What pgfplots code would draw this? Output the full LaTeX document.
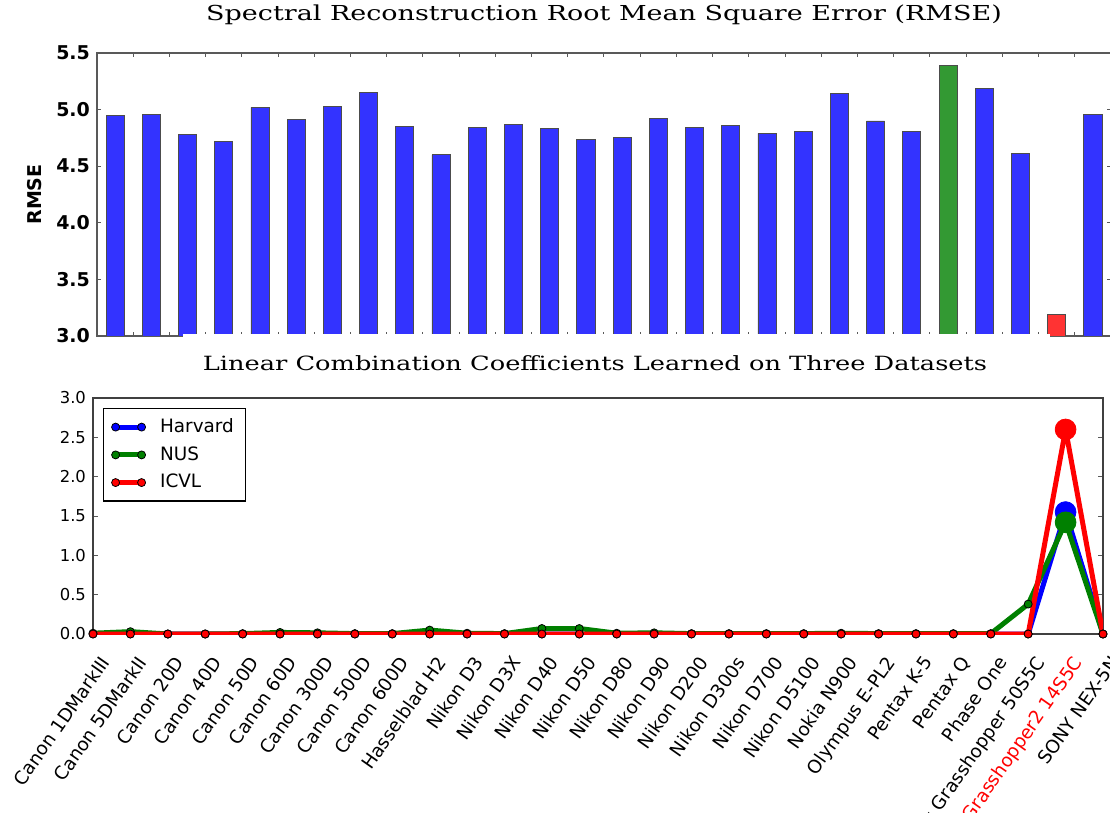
\documentclass[border=0pt]{standalone}
\usepackage{fontspec}
\setmainfont{DejaVu Sans}
\newfontfamily\titlefont[FakeStretch=1.31]{DejaVu Serif}
\usepackage{pgfplots}
\pgfplotsset{compat=1.18}
\definecolor{barblue}{RGB}{51,51,255}
\definecolor{bargreen}{RGB}{51,153,51}
\definecolor{barred}{RGB}{255,51,51}
\definecolor{lblue}{RGB}{0,0,255}
\definecolor{lgreen}{RGB}{0,128,0}
\definecolor{lred}{RGB}{255,0,0}
\begin{document}
\begin{tikzpicture}
% ---------------- top: RMSE bars ----------------
\begin{axis}[
  name=top, scale only axis, width=507pt, height=141.5pt,
  at={(48.5pt,-168pt)}, anchor=south west,
  xmin=0, xmax=28, ymin=3, ymax=5.5,
  xtick={0,...,28}, xticklabels={},
  ytick={3,3.5,...,5.5},
  tick align=inside, major tick length=2pt,
  xtick pos=both, ytick pos=both,
  axis line style={black!65, line width=0.6pt},
  tick style={black!65, line width=0.5pt},
  /pgf/number format/assume math mode=true,
  yticklabel style={font=\fontsize{9.5}{11}\selectfont\bfseries, /pgf/number format/.cd, fixed, fixed zerofill, precision=1},
  ylabel={RMSE},
  ylabel style={at={(axis description cs:-0.0612,0.5)}, anchor=center, font=\fontsize{9.5}{11}\selectfont\bfseries},
]
\addplot[ybar, bar width=0.5, bar shift=0pt, fill=barblue, draw=black!70, line width=0.4pt] coordinates {
(0.5,4.95) (1.5,4.96) (2.5,4.78) (3.5,4.72) (4.5,5.02) (5.5,4.91) (6.5,5.03) (7.5,5.15)
(8.5,4.85) (9.5,4.60) (10.5,4.84) (11.5,4.87) (12.5,4.83) (13.5,4.74) (14.5,4.75) (15.5,4.92)
(16.5,4.84) (17.5,4.86) (18.5,4.79) (19.5,4.81) (20.5,5.14) (21.5,4.90) (22.5,4.81)
(24.5,5.19) (25.5,4.61) (27.5,4.96)};
\addplot[ybar, bar width=0.5, bar shift=0pt, fill=bargreen, draw=black!70, line width=0.4pt] coordinates {(23.5,5.39)};
\addplot[ybar, bar width=0.5, bar shift=0pt, fill=barred, draw=black!70, line width=0.4pt] coordinates {(26.5,3.19)};
\coordinate (wa) at (axis cs:2.38,2.96);
\coordinate (wb) at (axis cs:26.31,3.016);
\end{axis}
\fill[white] (wa) rectangle (wb);
% ---------------- bottom: coefficients ----------------
\begin{axis}[
  name=bot, scale only axis, width=505pt, height=118pt,
  at={(46.5pt,-317pt)}, anchor=south west,
  xmin=0, xmax=27, ymin=0, ymax=3,
  xtick={0,...,27},
  xticklabels={Canon 1DMarkIII, Canon 5DMarkII, Canon 20D, Canon 40D, Canon 50D, Canon 60D, Canon 300D, Canon 500D, Canon 600D, Hasselblad H2, Nikon D3, Nikon D3X, Nikon D40, Nikon D50, Nikon D80, Nikon D90, Nikon D200, Nikon D300s, Nikon D700, Nikon D5100, Nokia N900, Olympus E-PL2, Pentax K-5, Pentax Q, Phase One, Point Grey Grasshopper 50S5C, \textcolor{red}{Point Grey Grasshopper2 14S5C}, SONY NEX-5N},
  x tick style={draw=none},
  extra x ticks={5,10,15,20,25}, extra x tick labels={},
  extra x tick style={tick style={draw=black!65, line width=0.5pt}, xtick pos=upper},
  xticklabel style={xshift=3pt, yshift=-10pt, rotate=55, anchor=north east, inner sep=0pt, font=\fontsize{9.2}{11}\selectfont},
  ytick={0,0.5,...,3},
  tick align=inside, major tick length=2.5pt,
  ytick pos=both,
  axis line style={black!75, line width=0.6pt},
  tick style={black!65, line width=0.5pt},
  /pgf/number format/assume math mode=true,
  yticklabel style={font=\fontsize{8.2}{10}\selectfont, /pgf/number format/.cd, fixed, fixed zerofill, precision=1},
  legend style={at={(axis description cs:0,1)}, anchor=north west, xshift=5pt, yshift=-5pt,
    draw=black, line width=0.6pt, font=\fontsize{9.2}{11}\selectfont, row sep=1.5pt,
    inner xsep=4pt, inner ysep=3pt, cells={anchor=west}},
  legend image code/.code={\draw[#1, mark repeat=1, mark phase=1] plot coordinates {(0pt,0pt) (13pt,0pt)}; \path (19pt,0pt);},
  every axis plot/.append style={line width=2.5pt, line join=round},
]
\addplot[color=lblue, mark=*, mark size=2pt, mark options={draw=black, line width=0.4pt, fill=lblue}] coordinates {
(0,0) (1,0) (2,0) (3,0) (4,0) (5,0) (6,0) (7,0) (8,0) (9,0) (10,0) (11,0) (12,0) (13,0)
(14,0) (15,0) (16,0) (17,0) (18,0) (19,0) (20,0) (21,0) (22,0) (23,0) (24,0) (25,0) (26,1.55) (27,0)};
\addlegendentry{Harvard}
\addplot[color=lgreen, mark=*, mark size=2pt, mark options={draw=black, line width=0.4pt, fill=lgreen}] coordinates {
(0,0.01) (1,0.03) (2,0.0) (3,0.0) (4,0.005) (5,0.02) (6,0.015) (7,0.005) (8,0.005) (9,0.05)
(10,0.01) (11,0.005) (12,0.07) (13,0.07) (14,0.01) (15,0.015) (16,0.005) (17,0.005) (18,0.005)
(19,0.005) (20,0.01) (21,0.005) (22,0.005) (23,0.005) (24,0.005) (25,0.38) (26,1.42) (27,0)};
\addlegendentry{NUS}
\addplot[color=lred, mark=*, mark size=2pt, mark options={draw=black, line width=0.4pt, fill=lred}] coordinates {
(0,0) (1,0) (2,0) (3,0) (4,0) (5,0) (6,0) (7,0) (8,0) (9,0) (10,0) (11,0) (12,0) (13,0)
(14,0) (15,0) (16,0) (17,0) (18,0) (19,0) (20,0) (21,0) (22,0) (23,0) (24,0) (25,0) (26,2.60) (27,0)};
\addlegendentry{ICVL}
\addplot[forget plot, only marks, mark=*, mark size=5.2pt, color=lblue, mark options={draw=lblue, line width=0.4pt, fill=lblue}] coordinates {(26,1.55)};
\addplot[forget plot, only marks, mark=*, mark size=5.2pt, color=lgreen, mark options={draw=lgreen, line width=0.4pt, fill=lgreen}] coordinates {(26,1.42)};
\addplot[forget plot, only marks, mark=*, mark size=5.2pt, color=lred, mark options={draw=lred, line width=0.4pt, fill=lred}] coordinates {(26,2.60)};
\end{axis}
% ---------------- titles ----------------
\node[anchor=base, inner sep=0pt, font=\titlefont\fontsize{10.3}{12}\selectfont] at (302pt,-10.5pt) {Spectral Reconstruction Root Mean Square Error (RMSE)};
\node[anchor=base, inner sep=0pt, font=\titlefont\fontsize{9.8}{12}\selectfont] at (297.5pt,-185pt) {Linear Combination Coefficients Learned on Three Datasets};
\pgfresetboundingbox
\path[use as bounding box] (0pt,0pt) rectangle (555pt,-406.5pt);
\end{tikzpicture}
\end{document}
